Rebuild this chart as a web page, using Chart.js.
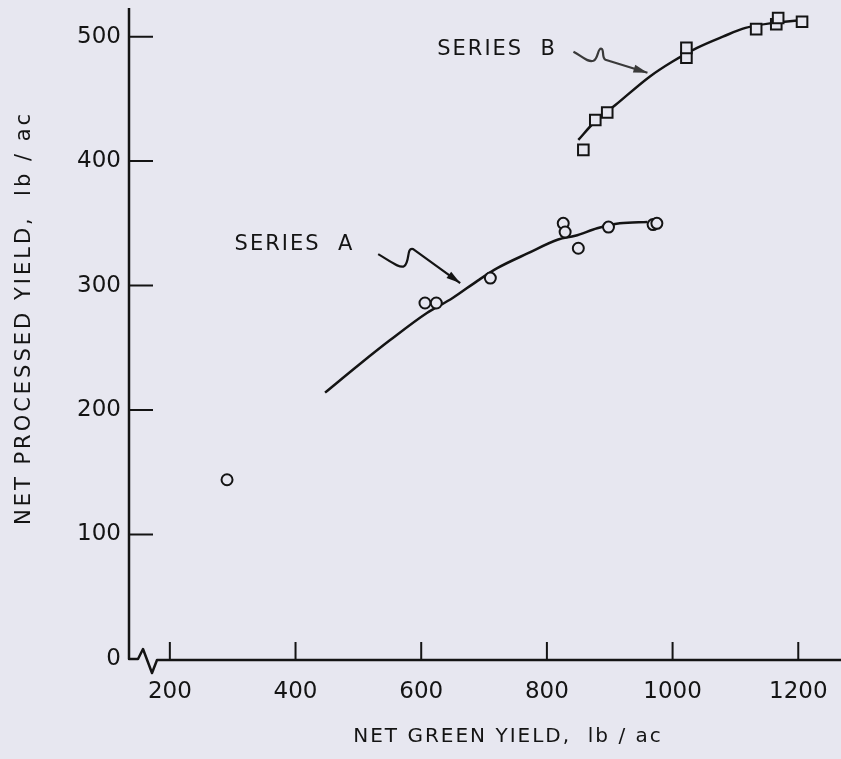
<!DOCTYPE html>
<html>
<head>
<meta charset="utf-8">
<script src="https://cdn.jsdelivr.net/npm/chart.js@4.4.1/dist/chart.umd.min.js"></script>
<style>
  html, body { margin: 0; padding: 0; background: #e7e7f0; }
  #wrap { width: 841px; height: 759px; position: relative; }
</style>
</head>
<body>
<div id="wrap"><canvas id="chart"></canvas></div>
<script>
// tick labels
const xTicks = [200, 400, 600, 800, 1000, 1200];
const yTicks = [0, 100, 200, 300, 400, 500];

// series A observations (circles)
const seriesAX = [291, 606, 624, 710, 826, 829, 850, 898, 969, 975];
const seriesAY = [144, 286, 286, 306, 350, 343, 330, 347, 349, 350];

// series B observations (squares)
const seriesBX = [858, 877, 896, 1022, 1022, 1133, 1165, 1168, 1206];
const seriesBY = [409, 433, 439, 483, 491, 506, 510, 515, 512];

// fitted curves
const fitAX = [447, 500, 550, 609, 650, 690, 721, 770, 818, 845, 880, 916, 960];
const fitAY = [214, 236, 256, 278, 290, 304, 314, 326, 337, 340, 346, 350, 351];
const fitBX = [850, 875, 909, 964, 1000, 1039, 1080, 1116, 1160, 1200];
const fitBY = [417, 431, 445, 468, 480, 491, 500, 507, 511, 513];

const BG = '#e7e7f0';
const INK = '#141414';
const FONT = '"DejaVu Sans", sans-serif';

function pts(xs, ys) { return xs.map((x, i) => ({ x: x, y: ys[i] })); }

const decor = {
  id: 'decor',
  beforeDraw(chart) {
    const ctx = chart.ctx;
    ctx.save();
    ctx.fillStyle = BG;
    ctx.fillRect(0, 0, chart.width, chart.height);
    ctx.restore();
  },
  afterDraw(chart) {
    const ctx = chart.ctx;
    const xs = chart.scales.x, ys = chart.scales.y;
    const a = chart.chartArea;
    const y0 = ys.getPixelForValue(0);
    ctx.save();
    ctx.strokeStyle = INK;
    ctx.fillStyle = INK;
    ctx.lineWidth = 2.5;
    ctx.lineJoin = 'round';
    ctx.lineCap = 'butt';

    // y axis
    ctx.beginPath();
    ctx.moveTo(a.left, a.top);
    ctx.lineTo(a.left, y0);
    // x axis with break mark
    ctx.lineTo(a.left + 9, y0);
    ctx.lineTo(a.left + 14, y0 - 10);
    ctx.lineTo(a.left + 23, y0 + 14);
    ctx.lineTo(a.left + 28, y0 + 1);
    ctx.lineTo(a.right, y0 + 1);
    ctx.stroke();

    // inward ticks
    ctx.lineWidth = 2;
    ctx.beginPath();
    yTicks.forEach(v => {
      if (v === 0) return;
      const p = ys.getPixelForValue(v);
      ctx.moveTo(a.left, p);
      ctx.lineTo(a.left + 24, p);
    });
    xTicks.forEach(v => {
      const p = xs.getPixelForValue(v);
      ctx.moveTo(p, y0);
      ctx.lineTo(p, y0 - 17);
    });
    ctx.stroke();

    // axis titles
    ctx.textAlign = 'center';
    ctx.textBaseline = 'middle';
    ctx.font = '20px ' + FONT;
    ctx.letterSpacing = '2px';
    ctx.fillText('NET GREEN YIELD,  lb / ac', 508, 737);
    ctx.font = '21px ' + FONT;
    ctx.letterSpacing = '3px';
    ctx.save();
    ctx.translate(25, 318);
    ctx.rotate(-Math.PI / 2);
    ctx.fillText('NET PROCESSED YIELD,  lb / ac', 0, 0);
    ctx.restore();

    // series labels
    ctx.font = '21px ' + FONT;
    ctx.letterSpacing = '2px';
    ctx.textAlign = 'left';
    ctx.fillText('SERIES  A', xs.getPixelForValue(303), ys.getPixelForValue(333));
    ctx.textAlign = 'right';
    ctx.fillText('SERIES  B', xs.getPixelForValue(816), ys.getPixelForValue(490));
    ctx.letterSpacing = '0px';

    // squiggle arrows
    function arrow(tx, ty, path, color) {
      const px = xs.getPixelForValue(tx), py = ys.getPixelForValue(ty);
      ctx.strokeStyle = color;
      ctx.lineWidth = 2.2;
      ctx.beginPath();
      path(ctx, px, py);
      ctx.stroke();
    }
    function head(tx, ty, dx, dy, color) {
      const px = xs.getPixelForValue(tx), py = ys.getPixelForValue(ty);
      const ang = Math.atan2(dy, dx);
      ctx.fillStyle = color;
      ctx.beginPath();
      ctx.moveTo(px, py);
      ctx.lineTo(px - 14 * Math.cos(ang) + 4 * Math.sin(ang), py - 14 * Math.sin(ang) - 4 * Math.cos(ang));
      ctx.lineTo(px - 14 * Math.cos(ang) - 4 * Math.sin(ang), py - 14 * Math.sin(ang) + 4 * Math.cos(ang));
      ctx.closePath();
      ctx.fill();
    }
    // arrow to curve A
    arrow(662, 302, (c, px, py) => {
      c.moveTo(px - 82, py - 29);
      c.bezierCurveTo(px - 70, py - 22, px - 60, py - 14, px - 56, py - 17);
      c.bezierCurveTo(px - 50, py - 21, px - 54, py - 36, px - 47, py - 34);
      c.lineTo(px, py);
    }, INK);
    head(662, 302, 47, 34, INK);
    // arrow to curve B
    arrow(960, 471, (c, px, py) => {
      c.moveTo(px - 74, py - 21);
      c.bezierCurveTo(px - 66, py - 17, px - 60, py - 10, px - 54, py - 12);
      c.bezierCurveTo(px - 49, py - 14, px - 50, py - 25, px - 46, py - 24);
      c.bezierCurveTo(px - 43, py - 23, px - 46, py - 15, px - 42, py - 13);
      c.lineTo(px, py);
    }, '#3a3a3a');
    head(960, 471, 42, 13, '#3a3a3a');

    ctx.restore();
  }
};

new Chart(document.getElementById('chart'), {
  type: 'scatter',
  data: {
    datasets: [
      {
        label: 'Series A',
        data: pts(seriesAX, seriesAY),
        pointStyle: 'circle',
        pointRadius: 5.5,
        pointBorderWidth: 2,
        pointBorderColor: INK,
        pointBackgroundColor: BG,
        clip: false,
        order: 1
      },
      {
        label: 'Series B',
        data: pts(seriesBX, seriesBY),
        pointStyle: 'rect',
        pointRadius: 7.5,
        pointBorderWidth: 2,
        pointBorderColor: INK,
        pointBackgroundColor: BG,
        clip: false,
        order: 1
      },
      {
        label: 'Fit A',
        data: pts(fitAX, fitAY),
        showLine: true,
        pointRadius: 0,
        borderColor: INK,
        borderWidth: 2.5,
        cubicInterpolationMode: 'monotone',
        order: 2
      },
      {
        label: 'Fit B',
        data: pts(fitBX, fitBY),
        showLine: true,
        pointRadius: 0,
        borderColor: INK,
        borderWidth: 2.5,
        cubicInterpolationMode: 'monotone',
        order: 2
      }
    ]
  },
  options: {
    responsive: true,
    maintainAspectRatio: false,
    animation: false,
    layout: { autoPadding: false, padding: { top: 8, left: 0, right: 0, bottom: 0 } },
    plugins: { legend: { display: false }, tooltip: { enabled: false } },
    scales: {
      x: {
        type: 'linear',
        min: 135,
        max: 1268,
        afterBuildTicks: s => { s.ticks = xTicks.map(v => ({ value: v })); },
        afterFit: s => { s.height = 100; s.paddingLeft = 0; s.paddingRight = 0; },
        grid: { display: false, drawTicks: false },
        border: { display: false },
        ticks: {
          color: INK, font: { family: FONT, size: 23 }, padding: 19, maxRotation: 0,
          callback: v => String(v)
        }
      },
      y: {
        type: 'linear',
        min: 0,
        max: 523,
        afterBuildTicks: s => { s.ticks = yTicks.map(v => ({ value: v })); },
        afterFit: s => { s.width = 129; s.paddingTop = 0; s.paddingBottom = 0; },
        grid: { display: false, drawTicks: false },
        border: { display: false },
        ticks: {
          color: INK, font: { family: FONT, size: 23 }, padding: 8,
          callback: v => String(v)
        }
      }
    }
  },
  plugins: [decor]
});
</script>
</body>
</html>
